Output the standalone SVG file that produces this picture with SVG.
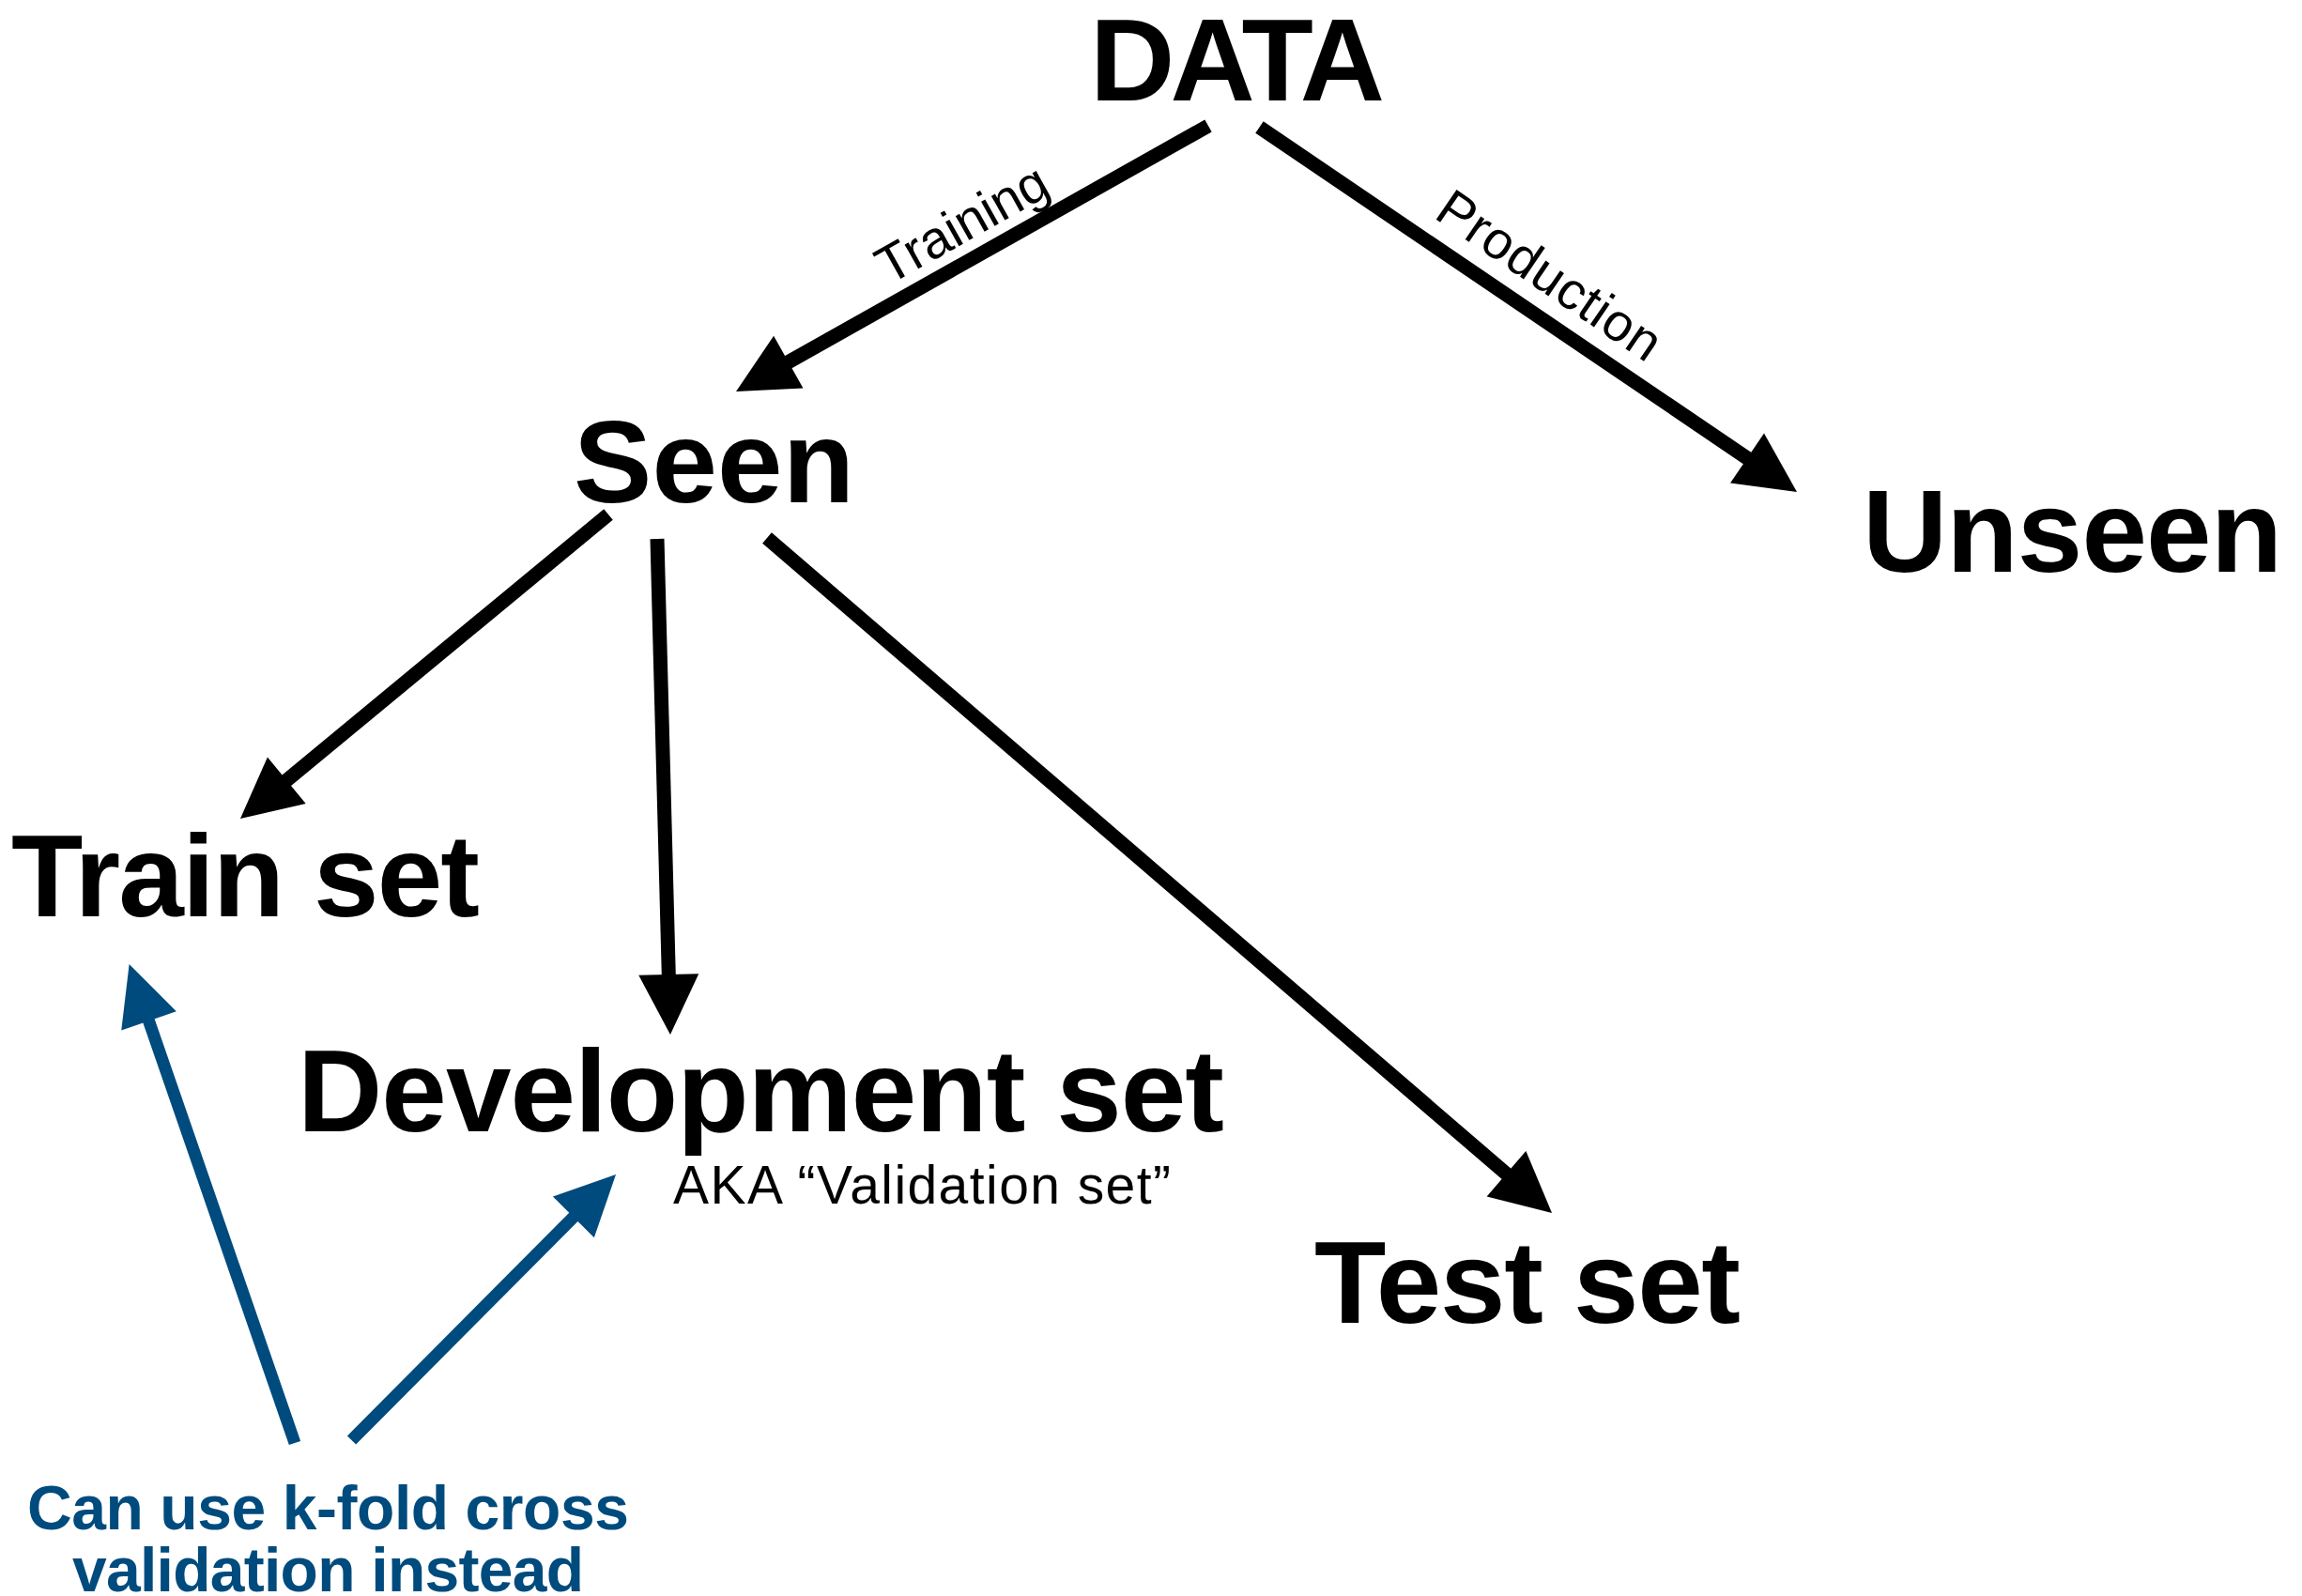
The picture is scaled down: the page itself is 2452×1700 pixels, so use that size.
<svg xmlns="http://www.w3.org/2000/svg" width="2452" height="1700" viewBox="0 0 2452 1700">
  <defs>
    <style>
      .node { font-family: "Liberation Sans", Arial, Helvetica, sans-serif; font-weight: bold; font-size: 125px; fill: #000; }
      .sub { font-family: "Liberation Sans", Arial, Helvetica, sans-serif; font-size: 57px; fill: #000; }
      .edge-label { font-family: "Liberation Sans", Arial, Helvetica, sans-serif; font-size: 56px; fill: #000; text-anchor: middle; }
      .note { font-family: "Liberation Sans", Arial, Helvetica, sans-serif; font-weight: bold; font-size: 66px; fill: #004b7d; }
      .edge { fill: none; stroke: #000; stroke-width: 15; stroke-linecap: butt; marker-end: url(#head-black); }
      .hint { fill: none; stroke: #004b7d; stroke-width: 13; stroke-linecap: butt; marker-end: url(#head-blue); }
    </style>
    <marker id="head-black" markerUnits="userSpaceOnUse" markerWidth="64" markerHeight="64" refX="24" refY="32" orient="auto" overflow="visible">
      <path d="M0,0 L64,32 L0,64 Z" fill="#000"/>
    </marker>
    <marker id="head-blue" markerUnits="userSpaceOnUse" markerWidth="64" markerHeight="64" refX="24" refY="32" orient="auto" overflow="visible">
      <path d="M0,1 L64,32 L0,63 Z" fill="#004b7d"/>
    </marker>
  </defs>

  <rect x="0" y="0" width="2452" height="1700" fill="#fff"/>

  <!-- connectors -->
  <g id="connectors">
    <line class="edge" x1="1287" y1="134" x2="818.9" y2="397.4"/>
    <line class="edge" x1="1341.5" y1="135.5" x2="1880.9" y2="501.5"/>
    <line class="edge" x1="648" y1="548" x2="286.8" y2="846.5"/>
    <line class="edge" x1="700" y1="574" x2="712.9" y2="1062"/>
    <line class="edge" x1="817" y1="573" x2="1622.7" y2="1265.9"/>
    <line class="hint" x1="314" y1="1537" x2="150.7" y2="1064.8"/>
    <line class="hint" x1="374.5" y1="1534" x2="627.8" y2="1279.4"/>
    <text class="edge-label" transform="translate(1034,255) rotate(-29.3)" x="0" y="0">Training</text>
    <text class="edge-label" transform="translate(1640,309) rotate(34.3)" x="0" y="0" textLength="276" lengthAdjust="spacing">Production</text>
  </g>

  <!-- nodes -->
  <g id="node-data">
    <text class="node" x="1161" y="107" textLength="314" lengthAdjust="spacing">DATA</text>
  </g>
  <g id="node-seen">
    <text class="node" x="611" y="535" textLength="299" lengthAdjust="spacing">Seen</text>
  </g>
  <g id="node-unseen">
    <text class="node" x="1984" y="609" textLength="447" lengthAdjust="spacing">Unseen</text>
  </g>
  <g id="node-train">
    <text class="node" x="12" y="976" textLength="499" lengthAdjust="spacing">Train set</text>
  </g>
  <g id="node-dev">
    <text class="node" x="317" y="1205" textLength="987" lengthAdjust="spacing">Development set</text>
    <text class="sub" x="717" y="1282" textLength="530" lengthAdjust="spacing">AKA “Validation set”</text>
  </g>
  <g id="node-test">
    <text class="node" x="1400" y="1409" textLength="454" lengthAdjust="spacing">Test set</text>
  </g>
  <g id="node-kfold">
    <text class="note" x="29" y="1629" textLength="641" lengthAdjust="spacing">Can use k-fold cross</text>
    <text class="note" x="77" y="1695" textLength="545" lengthAdjust="spacing">validation instead</text>
  </g>
</svg>
